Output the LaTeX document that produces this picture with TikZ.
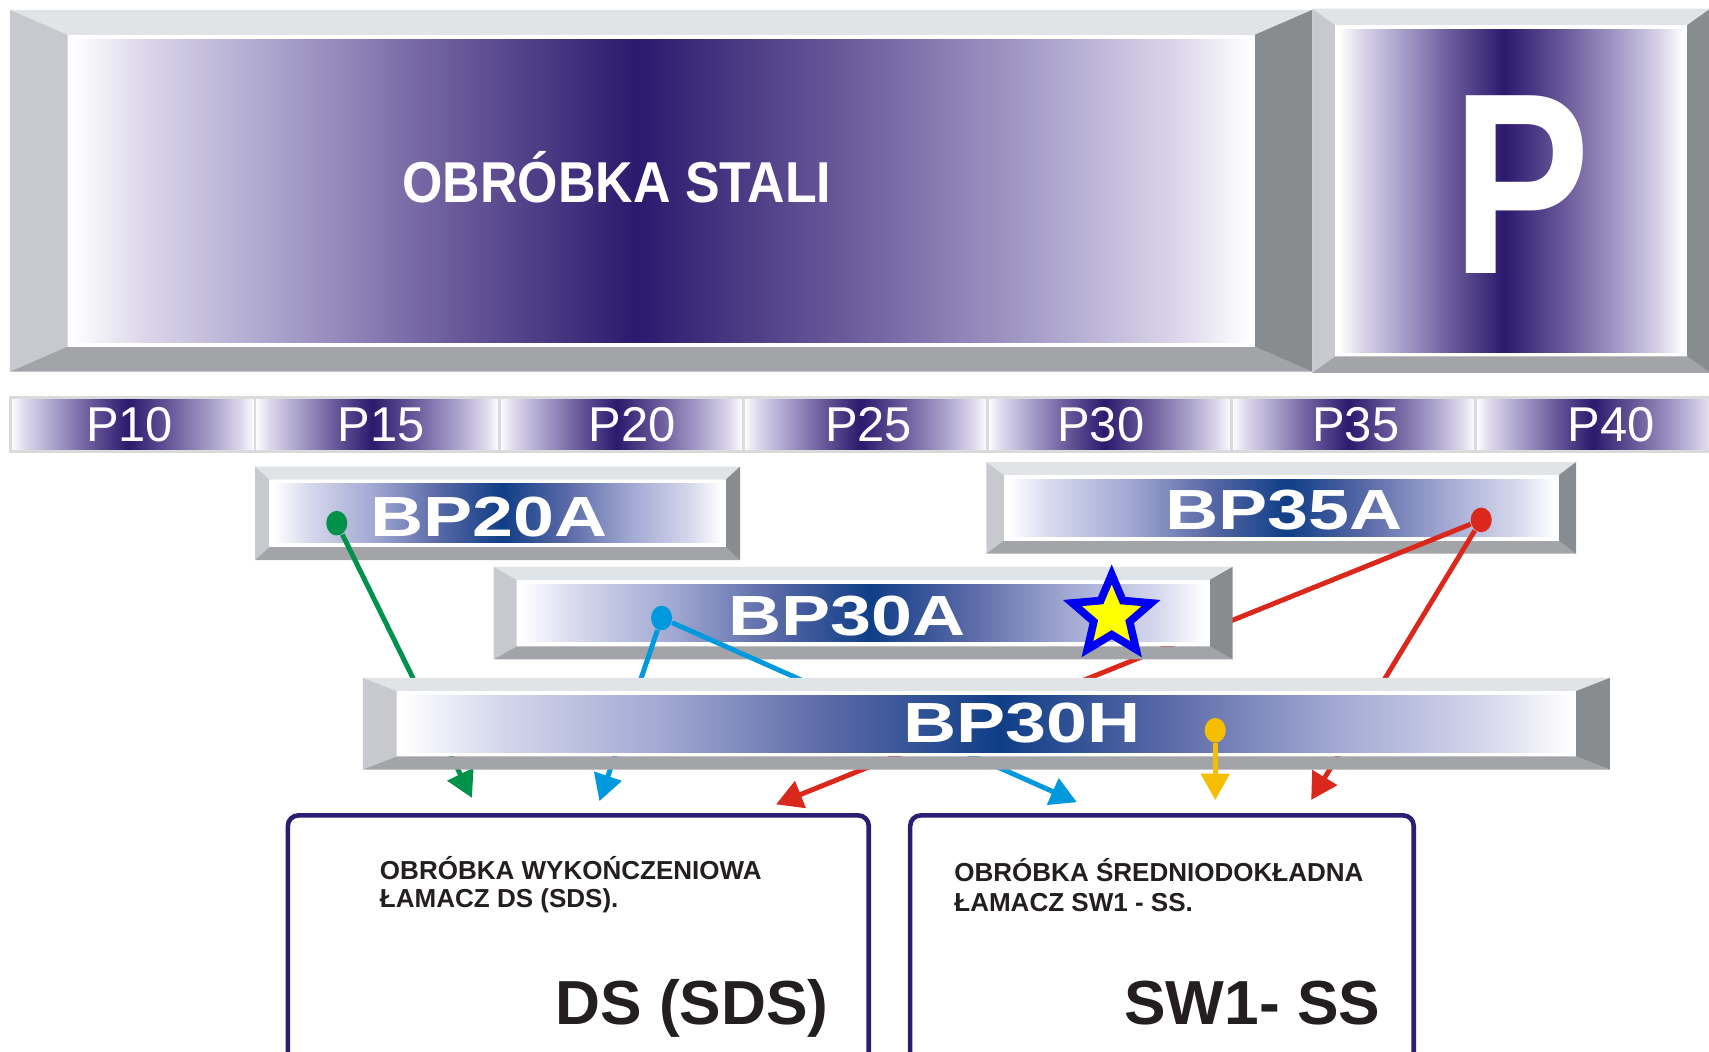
\documentclass[tikz,border=0pt]{standalone}
\usepackage{fontspec}
\setmainfont{Liberation Sans}
\newfontfamily\titlefont[FakeStretch=0.9]{Liberation Sans Bold}
\newfontfamily\bigpfont[FakeStretch=0.8]{Liberation Sans Bold}
\newfontfamily\bpfont[FakeStretch=1.3]{Liberation Sans Bold}
\usetikzlibrary{arrows.meta,shapes.geometric}

\definecolor{pdark}{HTML}{2B1A6D}
\definecolor{pmid}{HTML}{6C5C9C}
\definecolor{plav}{HTML}{A79FCA}
\definecolor{ppale}{HTML}{DCD7EB}
\definecolor{bdark}{HTML}{0F3E87}
\definecolor{bmid}{HTML}{5868A6}
\definecolor{blav}{HTML}{A2A9D3}
\definecolor{bpale}{HTML}{D6D8EC}
\definecolor{greytop}{HTML}{E1E4E7}
\definecolor{greyleft}{HTML}{C8C9CE}
\definecolor{greybot}{HTML}{A3A4A8}
\definecolor{greyright}{HTML}{888C8F}
\definecolor{tabline}{HTML}{DADADA}
\definecolor{navyline}{HTML}{2A1E72}
\definecolor{inktext}{HTML}{231F20}
\definecolor{arrgreen}{HTML}{00914A}
\definecolor{arrblue}{HTML}{0099DD}
\definecolor{arrred}{HTML}{DA291C}
\definecolor{arryellow}{HTML}{F6BE00}
\definecolor{starblue}{HTML}{0000F0}
\definecolor{staryellow}{HTML}{FFFF00}

% the path box is mapped onto 25bp..75bp of the shading
\pgfdeclarehorizontalshading{purplebar}{100bp}{color(0bp)=(white); color(25bp)=(white); color(28bp)=(ppale); color(34bp)=(plav); color(41bp)=(pmid); color(49bp)=(pdark); color(58bp)=(pmid); color(66bp)=(plav); color(72bp)=(ppale); color(75bp)=(white); color(100bp)=(white)}
\pgfdeclarehorizontalshading{bluebar}{100bp}{color(0bp)=(white); color(25bp)=(white); color(29bp)=(bpale); color(36bp)=(blav); color(43.5bp)=(bmid); color(50.5bp)=(bdark); color(57.5bp)=(bmid); color(65bp)=(blav); color(71.5bp)=(bpale); color(75bp)=(white); color(100bp)=(white)}

\newcommand{\px}{0.0109cm}
% raised box: x1,y1,x2,y2, bevel x, bevel y, shading
\newcommand{\bevelbox}[7]{%
	\fill[greytop] (#1,#2) -- (#3,#2) -- (#3-#5,#2+#6) -- (#1+#5,#2+#6) -- cycle;
	\fill[greyleft] (#1,#2) -- (#1+#5,#2+#6) -- (#1+#5,#4-#6) -- (#1,#4) -- cycle;
	\fill[greybot] (#1,#4) -- (#1+#5,#4-#6) -- (#3-#5,#4-#6) -- (#3,#4) -- cycle;
	\fill[greyright] (#3,#2) -- (#3,#4) -- (#3-#5,#4-#6) -- (#3-#5,#2+#6) -- cycle;
	\fill[white] (#1+#5,#2+#6) rectangle (#3-#5,#4-#6);
	\shade[shading=#7] (#1+#5+4,#2+#6+4) rectangle (#3-#5-4,#4-#6-4);
}

\begin{document}
\begin{tikzpicture}[x=0.0109cm, y=-0.0109cm,
	tab/.style={shade, shading=purplebar, draw=tabline, line width=0.8pt, minimum width=224*\px, minimum height=49*\px, inner sep=0pt},
	tablabel/.style={text=white, inner sep=0pt, font=\fontsize{13.9}{15}\selectfont},
	bplabel/.style={text=white, inner sep=0pt, font=\bpfont\fontsize{16.1}{18}\selectfont},
	enddot/.style={ellipse, inner sep=0pt, minimum width=6pt, minimum height=7pt},
	flow/.style={line width=1.4pt, -{Triangle[length=7.5pt, width=8pt]}},
	panel/.style={draw=navyline, line width=1.3pt, rounded corners=3pt, fill=white, inner sep=0pt, anchor=north west},
	descr/.style={text=inktext, inner sep=0pt, anchor=base west, font=\bfseries\fontsize{7.4}{8}\selectfont},
	machine/.style={text=inktext, inner sep=0pt, anchor=base east, font=\bfseries\fontsize{17.7}{20}\selectfont}]
	\useasboundingbox (0,0) rectangle (1568,965);
	\fill[white] (0,0) rectangle (1568,965);
	
	%header
	\bevelbox{9}{9}{1204}{341}{53}{23}{purplebar}
	\bevelbox{1204}{8}{1569}{342}{21}{15}{purplebar}
	\node[text=white, inner sep=0pt, anchor=base, font=\titlefont\fontsize{16.4}{18}\selectfont] (stali) at (566,186) {OBRÓBKA STALI};
	\node[text=white, inner sep=0pt, anchor=base, font=\bigpfont\fontsize{73.5}{80}\selectfont] (bigp) at (1396,251) {P};
	
	%sizes
	\foreach \i in {1,...,7}{
		\node[tab] (tab\i) at ({10+224*\i-112}, 389.5) {};
	}
	\foreach \lbl/\xc in {P10/119, P15/350, P20/580, P25/797, P30/1010, P35/1244, P40/1478}{
		\node[tablabel] (lbl\lbl) at (\xc, 389.5) {\lbl};
	}
	
	%upper plates
	\bevelbox{234}{428}{679}{514}{13}{12}{bluebar}
	\node[bplabel] (bp20a) at (449,474) {BP20A};
	\bevelbox{905}{424}{1446}{508}{16}{12}{bluebar}
	\node[bplabel] (bp35a) at (1178,468) {BP35A};
	
	\coordinate (gtip) at (433,732);
	\coordinate (btip1) at (550,735);
	\coordinate (btip2) at (988,736);
	\coordinate (rtip1) at (712,738);
	\coordinate (rtip2) at (1203,734);
	\coordinate (ytip) at (1115,734);
	
	\node[enddot, fill=arrgreen] (gdot) at (309,480) {};
	\node[enddot, fill=arrred] (rdot) at (1359,477) {};
	\draw[flow, arrred] (rdot) -- (rtip1);
	\draw[flow, arrred] (rdot) -- (rtip2);
	\draw[flow, arrgreen] (gdot) -- (gtip);
	
	\bevelbox{453}{520}{1131}{605}{21}{12}{bluebar}
	\node[bplabel] (bp30a) at (777,565) {BP30A};
	\node[enddot, fill=arrblue] (bdot) at (607,567) {};
	\draw[flow, arrblue] (bdot) -- (btip1);
	\draw[flow, arrblue] (bdot) -- (btip2);
	\node[star, star points=5, star point ratio=2.2, minimum size=76*\px, inner sep=0pt, fill=staryellow, draw=starblue, line width=2.2pt, line join=miter] (star) at (1020,565) {};
	
	\bevelbox{333}{622}{1477}{706}{31}{12}{bluebar}
	\node[bplabel] (bp30h) at (938,663) {BP30H};
	\node[enddot, fill=arryellow] (ydot) at (1115,670) {};
	\draw[flow, arryellow] (ydot) -- (ytip);
	
	%breakers
	\node[panel, minimum width=533*\px, minimum height=260*\px] (dsbox) at (262,746) {};
	\node[panel, minimum width=462*\px, minimum height=260*\px] (swbox) at (833,746) {};
	\node[descr] (ds1) at (348,807) {OBRÓBKA WYKOŃCZENIOWA};
	\node[descr] (ds2) at (348,833) {ŁAMACZ DS (SDS).};
	\node[machine] (ds) at (761,940) {DS (SDS)};
	\node[descr] (sw1) at (875,809) {OBRÓBKA ŚREDNIODOKŁADNA};
	\node[descr] (sw2) at (875,836) {ŁAMACZ SW1 - SS.};
	\node[machine] (sw) at (1267,940) {SW1- SS};
\end{tikzpicture}
\end{document}
